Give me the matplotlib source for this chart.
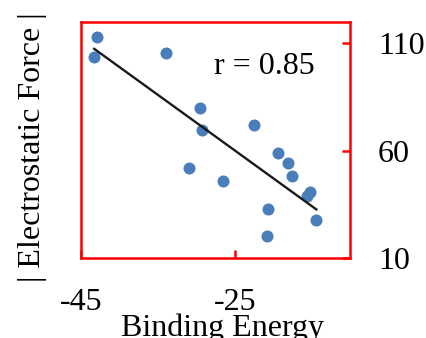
import numpy as np
import matplotlib.pyplot as plt

plt.rcParams['font.family'] = ['Liberation Serif', 'DejaVu Serif']
plt.rcParams['axes.unicode_minus'] = False

# binding energy vs |electrostatic force|
binding = [-42.9, -43.3, -33.9, -29.5, -29.3, -22.5, -31.0, -26.5,
           -19.4, -18.1, -17.5, -15.2, -15.6, -20.7, -14.4, -20.8]
force = [113.2, 103.5, 105.4, 79.9, 69.6, 72.0, 51.7, 46.0,
         58.9, 54.2, 48.4, 40.6, 38.7, 32.7, 27.9, 20.0]
xticks = [-45, -25]
yticks = [10, 60, 110]
r_text = "r = 0.85"

x = np.array(binding)
y = np.array(force)
k, d = np.polyfit(x, y, 1)
xfit = np.array([x.min(), x.max()])

fig = plt.figure(figsize=(4.27, 3.38), dpi=100)
ax = fig.add_axes([0.19, 0.237, 0.63, 0.698])

ax.scatter(x, y, s=75, color='#4a7ebb', zorder=3, linewidths=0)
ax.plot(xfit, k * xfit + d, color='#1a1a1a', lw=1.7, zorder=4)

ax.set_xlim(-45, -10)
ax.set_ylim(10, 120)
ax.set_xticks(xticks)
ax.set_yticks(yticks)

for s in ax.spines.values():
    s.set_color('red')
    s.set_linewidth(1.8)

ax.tick_params(axis='x', direction='in', length=6, width=1.8, color='red',
               labelsize=23, pad=22)
ax.tick_params(axis='y', direction='in', length=6, width=1.8, color='red',
               labelsize=23, pad=20, left=False, right=True,
               labelleft=False, labelright=True)

ax.text(0.495, 0.78, r_text, transform=ax.transAxes, fontsize=23,
        va='baseline', ha='left')

ax.set_ylabel('| Electrostatic Force |', fontsize=23, va='center')
ax.yaxis.set_label_coords(-0.18, 0.47)
ax.set_xlabel('Binding Energy', fontsize=23, va='top')
ax.xaxis.set_label_coords(0.525, -0.235)

fig.savefig('out.png', dpi=100)
